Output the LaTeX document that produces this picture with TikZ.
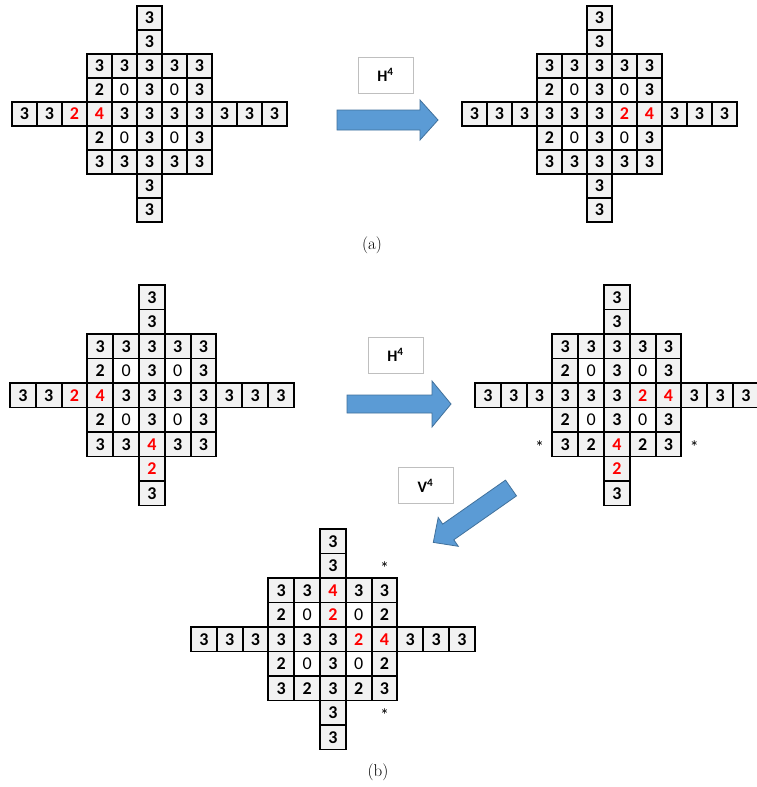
\documentclass[tikz,border=0pt]{standalone}
\usepackage{fontspec}
\newfontfamily\calib{Carlito}
\definecolor{cellgray}{HTML}{F2F2F2}
\definecolor{arrowblue}{HTML}{5B9BD5}
\definecolor{arrowedge}{HTML}{41719C}
\definecolor{boxedge}{HTML}{BFBFBF}
\pgfdeclarelayer{borders}
\pgfsetlayers{main,borders}
\tikzset{
  cellfillb/.style={fill=cellgray},
  cellfillz/.style={fill=white},
  cellfillr/.style={fill=cellgray},
  cellline/.style={draw=black,line width=1.9pt},
  txtb/.style={font=\calib\bfseries\fontsize{18}{18}\selectfont,text=black,inner sep=0pt},
  txtz/.style={font=\calib\fontsize{18}{18}\selectfont,text=black,inner sep=0pt},
  txtr/.style={font=\calib\bfseries\fontsize{18}{18}\selectfont,text=red,inner sep=0pt},
  bluearrow/.style={fill=arrowblue,draw=arrowedge,line width=0.8pt,line join=miter},
  labelbox/.style={draw=boxedge,line width=0.8pt,fill=white,minimum width=55pt,minimum height=36pt,
    font=\calib\bfseries\fontsize{16}{16}\selectfont,inner sep=0pt},
  star/.style={font=\calib\fontsize{18}{18}\selectfont,inner sep=0pt},
  caption/.style={font=\fontsize{17}{20}\selectfont,inner sep=0pt}
}
\newcommand\cellrow[3]{%
  \foreach \s/\v [count=\k from 0] in {#3}{%
    \pgfmathtruncatemacro\cidx{#2+\k}%
    \fill[cellfill\s] (\cidx,#1) rectangle ++(1,1);
    \begin{pgfonlayer}{borders}
      \draw[cellline] (\cidx,#1) rectangle ++(1,1);
    \end{pgfonlayer}
    \node[txt\s] (\gname-\cidx-#1) at (\cidx+0.5,#1+0.5) {\v};
  }%
}
\begin{document}
\begin{tikzpicture}[x=1pt,y=-1pt]
\useasboundingbox (0,0) rectangle (757,787);
\fill[white] (0,0) rectangle (757,787);

% ---------- (a) left grid
\begin{scope}[shift={(12,6)},x=25pt,y=-24pt]
\def\gname{aL}
\cellrow{0}{5}{b/3}
\cellrow{1}{5}{b/3}
\cellrow{2}{3}{b/3,b/3,b/3,b/3,b/3}
\cellrow{3}{3}{b/2,z/0,b/3,z/0,b/3}
\cellrow{4}{0}{b/3,b/3,r/2,r/4,b/3,b/3,b/3,b/3,b/3,b/3,b/3}
\cellrow{5}{3}{b/2,z/0,b/3,z/0,b/3}
\cellrow{6}{3}{b/3,b/3,b/3,b/3,b/3}
\cellrow{7}{5}{b/3}
\cellrow{8}{5}{b/3}
\end{scope}

% ---------- (a) right grid
\begin{scope}[shift={(462,6)},x=25pt,y=-24pt]
\def\gname{aR}
\cellrow{0}{5}{b/3}
\cellrow{1}{5}{b/3}
\cellrow{2}{3}{b/3,b/3,b/3,b/3,b/3}
\cellrow{3}{3}{b/2,z/0,b/3,z/0,b/3}
\cellrow{4}{0}{b/3,b/3,b/3,b/3,b/3,b/3,r/2,r/4,b/3,b/3,b/3}
\cellrow{5}{3}{b/2,z/0,b/3,z/0,b/3}
\cellrow{6}{3}{b/3,b/3,b/3,b/3,b/3}
\cellrow{7}{5}{b/3}
\cellrow{8}{5}{b/3}
\end{scope}

% arrow (a)
\draw[bluearrow] (337,110) -- (420,110) -- (420,100) -- (438,120) -- (420,140) -- (420,130) -- (337,130) -- cycle;
\node[labelbox] (lblHa) at (385.5,75) {H\textsuperscript{4}};
\node[caption] (capa) at (372,245) {(a)};

% ---------- (b) left grid
\begin{scope}[shift={(10,285)},x=25.8pt,y=-24.5pt]
\def\gname{bL}
\cellrow{0}{5}{b/3}
\cellrow{1}{5}{b/3}
\cellrow{2}{3}{b/3,b/3,b/3,b/3,b/3}
\cellrow{3}{3}{b/2,z/0,b/3,z/0,b/3}
\cellrow{4}{0}{b/3,b/3,r/2,r/4,b/3,b/3,b/3,b/3,b/3,b/3,b/3}
\cellrow{5}{3}{b/2,z/0,b/3,z/0,b/3}
\cellrow{6}{3}{b/3,b/3,r/4,b/3,b/3}
\cellrow{7}{5}{r/2}
\cellrow{8}{5}{b/3}
\end{scope}

% ---------- (b) right grid
\begin{scope}[shift={(475,285)},x=25.8pt,y=-24.5pt]
\def\gname{bR}
\cellrow{0}{5}{b/3}
\cellrow{1}{5}{b/3}
\cellrow{2}{3}{b/3,b/3,b/3,b/3,b/3}
\cellrow{3}{3}{b/2,z/0,b/3,z/0,b/3}
\cellrow{4}{0}{b/3,b/3,b/3,b/3,b/3,b/3,r/2,r/4,b/3,b/3,b/3}
\cellrow{5}{3}{b/2,z/0,b/3,z/0,b/3}
\cellrow{6}{3}{b/3,b/2,r/4,b/2,b/3}
\cellrow{7}{5}{r/2}
\cellrow{8}{5}{b/3}
\node[star] (bRs1) at (2.5,6.6) {*};
\node[star] (bRs2) at (8.5,6.6) {*};
\end{scope}

% ---------- (b) bottom grid
\begin{scope}[shift={(191,529)},x=25.8pt,y=-24.5pt]
\def\gname{bB}
\cellrow{0}{5}{b/3}
\cellrow{1}{5}{b/3}
\cellrow{2}{3}{b/3,b/3,r/4,b/3,b/3}
\cellrow{3}{3}{b/2,z/0,r/2,z/0,b/2}
\cellrow{4}{0}{b/3,b/3,b/3,b/3,b/3,b/3,r/2,r/4,b/3,b/3,b/3}
\cellrow{5}{3}{b/2,z/0,b/3,z/0,b/2}
\cellrow{6}{3}{b/3,b/2,b/3,b/2,b/3}
\cellrow{7}{5}{b/3}
\cellrow{8}{5}{b/3}
\node[star] (bBs1) at (7.5,1.6) {*};
\node[star] (bBs2) at (7.5,7.6) {*};
\end{scope}

% arrow (b) horizontal
\draw[bluearrow] (347,395) -- (432,395) -- (432,381) -- (451,404) -- (432,427) -- (432,413) -- (347,413) -- cycle;
\node[labelbox] (lblHb) at (395.5,355) {H\textsuperscript{4}};

% arrow (b) diagonal
\draw[bluearrow] (505.5,480.1) -- (442.7,524.1) -- (438.2,517.5) -- (433.3,542.4) -- (458.3,546.3) -- (453.8,539.8) -- (516.5,495.9) -- cycle;
\node[labelbox] (lblV) at (425.5,485.5) {V\textsuperscript{4}};

\node[caption] (capb) at (378,772) {(b)};
\end{tikzpicture}
\end{document}
